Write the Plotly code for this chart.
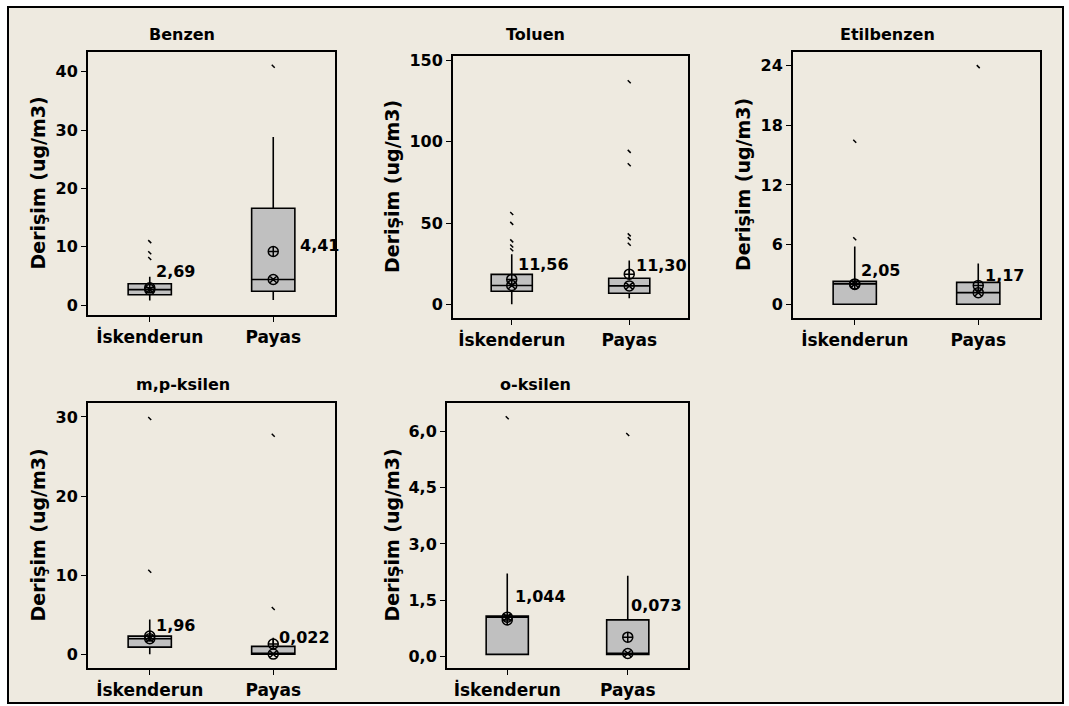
import plotly.graph_objects as go

W, H = 1069, 706

# ---------------- data ----------------
pollutants = ["Benzen", "Toluen", "Etilbenzen", "m,p-ksilen", "o-ksilen"]
sites = ["İskenderun", "Payas"]
q1 = [[1.8, 2.4], [8.0, 6.8], [0.0, 0.0], [0.9, 0.0], [0.05, 0.05]]
q3 = [[3.7, 16.6], [18.4, 16.0], [2.3, 2.2], [2.3, 1.0], [1.07, 0.97]]
medians = [[2.69, 4.41], [11.56, 11.30], [2.05, 1.17], [1.96, 0.022], [1.044, 0.073]]
median_labels = [["2,69", "4,41"], ["11,56", "11,30"], ["2,05", "1,17"],
                 ["1,96", "0,022"], ["1,044", "0,073"]]
means = [[3.0, 9.2], [15.3, 18.5], [2.0, 1.9], [2.3, 1.3], [0.97, 0.51]]
lower = [[0.8, 0.9], [0.0, 3.7], [0.0, 0.0], [0.0, 0.0], [0.05, 0.05]]
upper = [[4.9, 28.8], [30.8, 27.0], [5.8, 4.1], [4.4, 2.1], [2.21, 2.15]]
outliers = [
    [[8.0, 9.0, 10.9], [40.9]],
    [[33.5, 35.9, 39.0, 49.8, 55.9], [36.9, 40.4, 42.7, 85.9, 94.1, 137.0]],
    [[6.6, 16.4], [23.9]],
    [[10.5, 29.8], [5.8, 27.7]],
    [[6.37], [5.92]],
]
ytick_vals = [[0, 10, 20, 30, 40], [0, 50, 100, 150], [0, 6, 12, 18, 24],
              [0, 10, 20, 30], [0, 1.5, 3.0, 4.5, 6.0]]
ytick_text = [["0", "10", "20", "30", "40"], ["0", "50", "100", "150"],
              ["0", "6", "12", "18", "24"], ["0", "10", "20", "30"],
              ["0,0", "1,5", "3,0", "4,5", "6,0"]]
y_title = "Derişim (ug/m3)"

# ---------------- layout (pixels) ----------------
plot_px = [(88, 48, 335, 313), (453, 52, 688, 316), (793, 48, 1040, 316),
           (88, 401, 335, 668), (447, 401, 688, 668)]
y_ranges = [[-1.7, 43.4], [-8.6, 153], [-1.4, 25.4], [-1.76, 31.8], [-0.32, 6.77]]
title_px = [(182, 31), (535, 31), (887, 31), (183, 383), (535, 383)]
ytitle_x = [38, 392, 743, 38, 392]
label_shift = [[(4, 18), (25, 34)], [(4, 21), (5, 20)], [(4, 13), (5, 17)],
               [(4, 13), (4, 17)], [(6, 21), (1, 48)]]

FONT = "DejaVu Sans"
BOXFILL = "#C0C0C0"
BG = "#EEEAE0"

fig = go.Figure()
layout = dict(
    width=W, height=H, margin=dict(l=0, r=0, t=0, b=0),
    paper_bgcolor="white", plot_bgcolor="white", showlegend=False,
    font=dict(family=FONT, color="black"),
)
annotations = []

for i, name in enumerate(pollutants):
    ax = "" if i == 0 else str(i + 1)
    xref, yref = "x" + ax, "y" + ax
    x0, y0, x1, y1 = plot_px[i]
    for j, site in enumerate(sites):
        fig.add_trace(go.Box(
            x=[site], q1=[q1[i][j]], median=[medians[i][j]], q3=[q3[i][j]],
            lowerfence=[lower[i][j]], upperfence=[upper[i][j]],
            width=0.35, whiskerwidth=0, fillcolor=BOXFILL,
            line=dict(color="black", width=1.6), boxpoints=False,
            xaxis=xref, yaxis=yref, hoverinfo="skip"))
        fig.add_trace(go.Scatter(
            x=[site] * len(outliers[i][j]), y=outliers[i][j], mode="markers",
            marker=dict(symbol="line-nw", size=3,
                        line=dict(color="black", width=1.5)),
            xaxis=xref, yaxis=yref, hoverinfo="skip"))
        fig.add_trace(go.Scatter(
            x=[site], y=[medians[i][j]], mode="markers",
            marker=dict(symbol="circle-x-open", size=10, color="black",
                        line=dict(width=1.5)),
            xaxis=xref, yaxis=yref, hoverinfo="skip"))
        fig.add_trace(go.Scatter(
            x=[site], y=[means[i][j]], mode="markers",
            marker=dict(symbol="circle-cross-open", size=10, color="black",
                        line=dict(width=1.5)),
            xaxis=xref, yaxis=yref, hoverinfo="skip"))
        dx, dy = label_shift[i][j]
        annotations.append(dict(
            x=site, y=medians[i][j], xref=xref, yref=yref,
            text="<b>%s</b>" % median_labels[i][j], showarrow=False,
            xanchor="left", yanchor="middle", xshift=dx, yshift=dy,
            font=dict(family=FONT, size=16, color="black")))

    layout["xaxis" + ax] = dict(
        domain=[x0 / W, x1 / W], anchor=yref,
        type="category", categoryorder="array", categoryarray=sites,
        range=[-0.5, 1.5], showline=True, mirror=True, linecolor="black",
        linewidth=2, ticks="outside", ticklen=5, tickwidth=1, tickcolor="black",
        showgrid=False, zeroline=False,
        tickfont=dict(family=FONT, size=17, color="black", weight="bold"))
    layout["yaxis" + ax] = dict(
        domain=[1 - y1 / H, 1 - y0 / H], anchor=xref, range=y_ranges[i],
        tickvals=ytick_vals[i], ticktext=ytick_text[i],
        showline=True, mirror=True, linecolor="black", linewidth=2,
        ticks="outside", ticklen=5, tickwidth=1, tickcolor="black",
        showgrid=False, zeroline=False,
        tickfont=dict(family=FONT, size=16, color="black", weight="bold"))

    tx, ty = title_px[i]
    annotations.append(dict(
        x=tx / W, y=1 - ty / H, xref="paper", yref="paper",
        text="<b>%s</b>" % name, showarrow=False,
        xanchor="center", yanchor="middle",
        font=dict(family=FONT, size=16, color="black")))
    annotations.append(dict(
        x=ytitle_x[i] / W, y=1 - (y0 + y1) / 2 / H, xref="paper", yref="paper",
        text="<b>%s</b>" % y_title, showarrow=False, textangle=-90,
        xanchor="center", yanchor="middle",
        font=dict(family=FONT, size=19, color="black")))

layout["annotations"] = annotations
layout["shapes"] = [dict(
    type="rect", xref="paper", yref="paper", layer="below",
    x0=8 / W, x1=1063 / W, y0=1 - 703 / H, y1=1 - 3 / H,
    fillcolor=BG, line=dict(color="black", width=2))]

fig.update_layout(**layout)
fig.write_html("out.html")
